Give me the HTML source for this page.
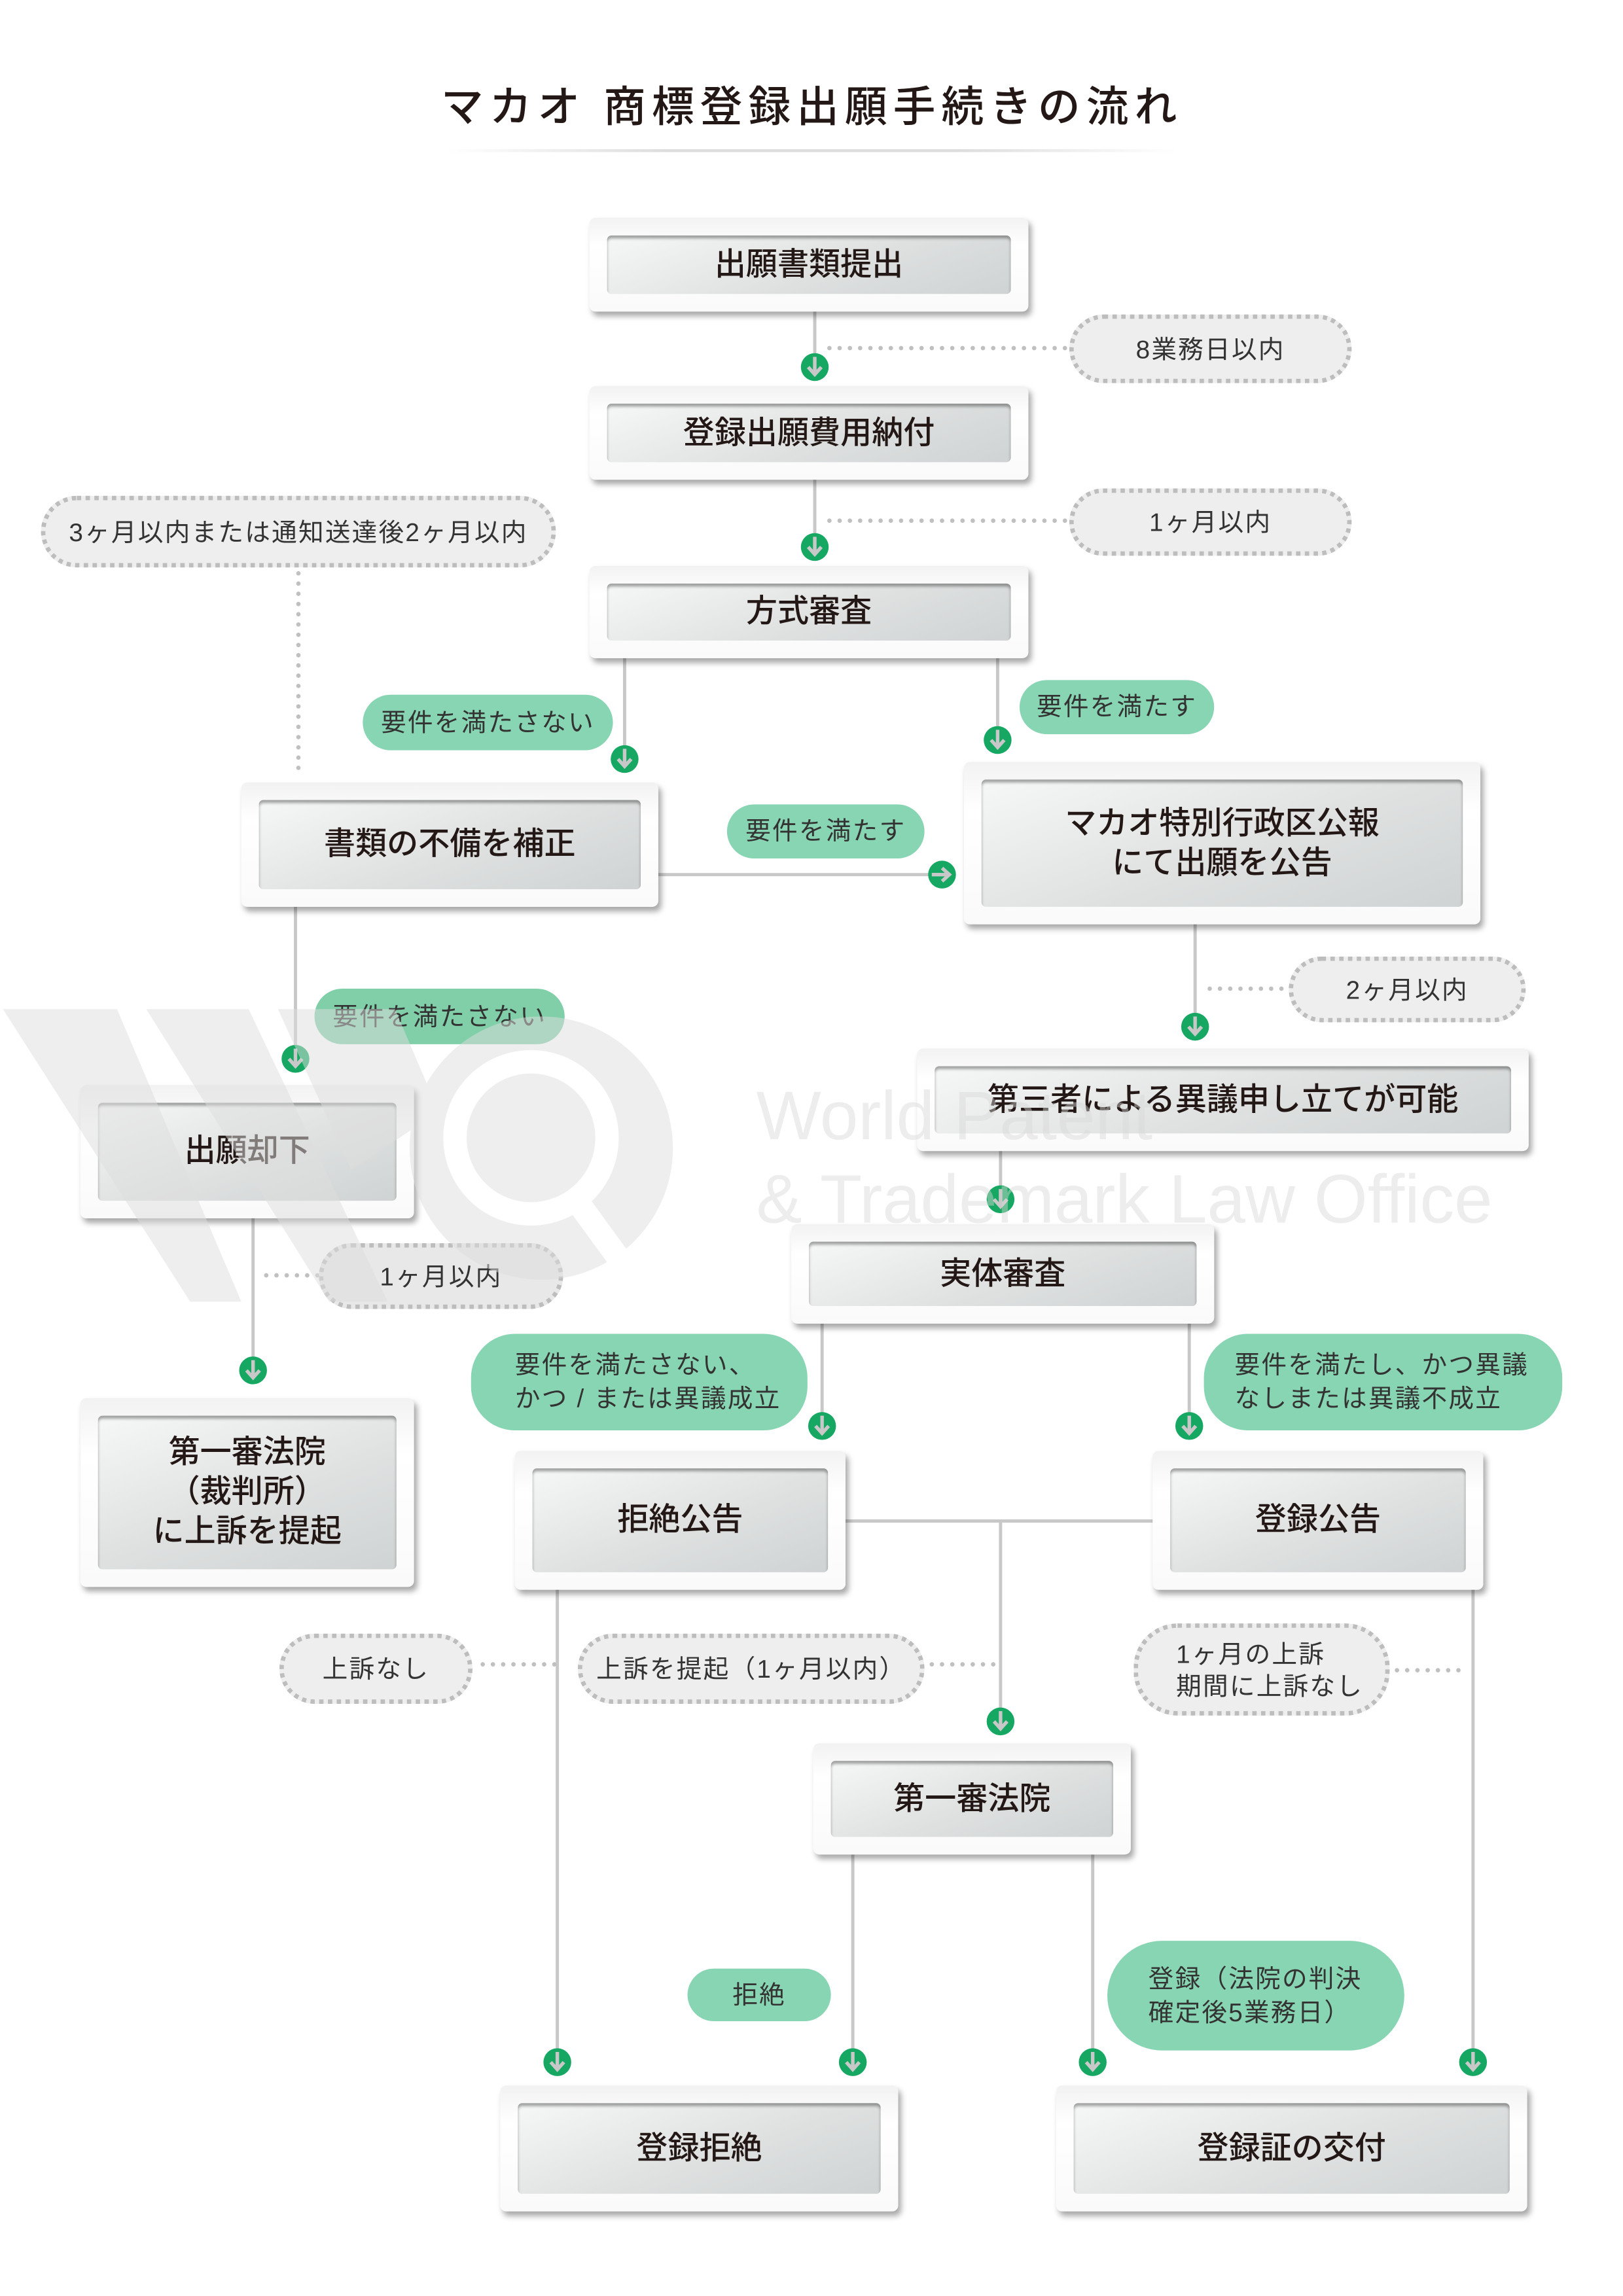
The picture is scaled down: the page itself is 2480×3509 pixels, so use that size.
<!DOCTYPE html>
<html><head><meta charset="utf-8">
<style>
html,body{margin:0;padding:0;background:#fff;}
body{width:2480px;height:3508px;overflow:hidden;position:relative;}
#w{position:absolute;left:0;top:0;width:1100px;height:1570px;transform:scale(2.2352);transform-origin:0 0;font-family:"Liberation Sans","Noto Sans CJK JP",sans-serif;color:#231815;}
.ab{position:absolute;}
.box{position:absolute;background:linear-gradient(180deg,#f2f2f2,#fff 30%,#fafafa);border-radius:4px;box-shadow:2px 3px 4px rgba(0,0,0,.35);}
.in{position:absolute;left:12px;right:12px;top:12px;bottom:12px;border-radius:3px;background:linear-gradient(160deg,#f6f7f7,#dfe1e1 55%,#cfd3d3);box-shadow:inset 0 2px 2px rgba(0,0,0,.35);display:flex;align-items:center;justify-content:center;text-align:center;font-size:21.5px;line-height:27px;font-weight:500;}
.gp{position:absolute;background:#88d5b3;border-radius:30px;display:flex;align-items:center;justify-content:center;font-size:17.3px;color:#333;line-height:23px;letter-spacing:1px;white-space:nowrap;}
.dp{position:absolute;background:#eeeeee;border:3px dotted #bdbdbd;border-radius:30px;display:flex;align-items:center;justify-content:center;font-size:17.3px;color:#333;line-height:22px;box-sizing:border-box;letter-spacing:1px;white-space:nowrap;}
.wm{position:absolute;color:rgba(215,215,215,.45);font-size:47px;white-space:nowrap;z-index:10;}
</style></head><body><div id="w">

<svg class="ab" style="left:0;top:0;z-index:9;opacity:.5" width="1100" height="1570">
 <g fill="#dedede">
  <polygon points="2,690 80,690 165,890 130,890"/>
  <polygon points="100,690 170,690 265,890 225,890"/>
  <polygon points="190,690 270,690 300,760 240,800"/>
  <circle cx="370" cy="785" r="90"/>
 </g>
 <circle cx="363" cy="778" r="52" fill="none" stroke="#fff" stroke-width="16"/>
 <line x1="395" y1="822" x2="430" y2="870" stroke="#fff" stroke-width="16"/>
</svg>
<div class="wm" style="left:517px;top:735px">World Patent</div>
<div class="wm" style="left:517px;top:792px">&amp; Trademark Law Office</div>

<div class="ab" style="left:280px;top:50px;width:550px;text-align:center;font-size:29px;letter-spacing:4px;font-weight:500">マカオ 商標登録出願手続きの流れ</div>
<div class="ab" style="left:305px;top:102px;width:500px;height:2px;background:linear-gradient(90deg,#fff,#ddd 30%,#ddd 70%,#fff)"></div>

<svg class="ab" style="left:0;top:0" width="1100" height="1570">
 <g stroke="#c8c8c8" stroke-width="2.2" fill="none">
  <path d="M557 213V251M557 328V374M427 450V519M682 450V506M450 598H644M202 620V724M817 632V702M684 787V820M173 833V937M562 905V975M813 905V975M578 1040H788M684 1040V1177M381 1087V1410M1007 1087V1410M583 1268V1410M747 1268V1410"/>
 </g>
 <g stroke="#c0c0c0" stroke-width="3" stroke-linecap="round" stroke-dasharray="0 7" fill="none">
  <path d="M567 238H730M567 356H730M204 392V527M827 676H880M182 872H218M330 1138H380M637 1138H680M955 1142H1000"/>
 </g>
</svg>

<svg class="ab" style="left:0;top:0;z-index:5" width="1100" height="1570">
 <defs><g id="a"><circle r="9.5" fill="#16a862"/><path d="M0,-7V4M-4.5,0L0,5L4.5,0" stroke="#c8c8c8" stroke-width="2.4" fill="none"/></g></defs>
 <use href="#a" x="557" y="251"/><use href="#a" x="557" y="374"/><use href="#a" x="427" y="519"/><use href="#a" x="682" y="506"/>
 <g transform="translate(644,598) rotate(-90)"><use href="#a"/></g>
 <use href="#a" x="202" y="724"/><use href="#a" x="817" y="702"/><use href="#a" x="684" y="820"/><use href="#a" x="173" y="937"/>
 <use href="#a" x="562" y="975"/><use href="#a" x="813" y="975"/><use href="#a" x="684" y="1177"/>
 <use href="#a" x="381" y="1410"/><use href="#a" x="583" y="1410"/><use href="#a" x="747" y="1410"/><use href="#a" x="1007" y="1410"/>
</svg>

<div class="box" style="left:403px;top:149px;width:300px;height:64px"><div class="in">出願書類提出</div></div>
<div class="box" style="left:403px;top:264px;width:300px;height:64px"><div class="in">登録出願費用納付</div></div>
<div class="box" style="left:403px;top:387px;width:300px;height:63px"><div class="in">方式審査</div></div>
<div class="box" style="left:165px;top:535px;width:285px;height:85px"><div class="in">書類の不備を補正</div></div>
<div class="box" style="left:659px;top:521px;width:353px;height:111px"><div class="in">マカオ特別行政区公報<br>にて出願を公告</div></div>
<div class="box" style="left:627px;top:717px;width:418px;height:70px"><div class="in">第三者による異議申し立てが可能</div></div>
<div class="box" style="left:541px;top:837px;width:289px;height:68px"><div class="in">実体審査</div></div>
<div class="box" style="left:55px;top:742px;width:228px;height:91px"><div class="in">出願却下</div></div>
<div class="box" style="left:55px;top:956px;width:228px;height:129px"><div class="in">第一審法院<br>（裁判所）<br>に上訴を提起</div></div>
<div class="box" style="left:352px;top:992px;width:226px;height:95px"><div class="in">拒絶公告</div></div>
<div class="box" style="left:788px;top:992px;width:226px;height:95px"><div class="in">登録公告</div></div>
<div class="box" style="left:556px;top:1192px;width:217px;height:76px"><div class="in">第一審法院</div></div>
<div class="box" style="left:342px;top:1426px;width:272px;height:86px"><div class="in">登録拒絶</div></div>
<div class="box" style="left:722px;top:1426px;width:322px;height:86px"><div class="in">登録証の交付</div></div>

<div class="dp" style="left:731px;top:215px;width:193px;height:47px">8業務日以内</div>
<div class="dp" style="left:731px;top:334px;width:193px;height:46px">1ヶ月以内</div>
<div class="dp" style="left:28px;top:339px;width:352px;height:49px">3ヶ月以内または通知送達後2ヶ月以内</div>
<div class="dp" style="left:881px;top:654px;width:162px;height:45px">2ヶ月以内</div>
<div class="dp" style="left:218px;top:850px;width:167px;height:45px;background:#e8e8e8">1ヶ月以内</div>
<div class="dp" style="left:191px;top:1117px;width:132px;height:48px">上訴なし</div>
<div class="dp" style="left:395px;top:1117px;width:237px;height:48px">上訴を提起（1ヶ月以内）</div>
<div class="dp" style="left:775px;top:1110px;width:175px;height:63px;justify-content:flex-start;padding-left:26px">1ヶ月の上訴<br>期間に上訴なし</div>

<div class="gp" style="left:248px;top:475px;width:171px;height:38px">要件を満たさない</div>
<div class="gp" style="left:697px;top:465px;width:133px;height:37px">要件を満たす</div>
<div class="gp" style="left:497px;top:550px;width:135px;height:37px">要件を満たす</div>
<div class="gp" style="left:215px;top:676px;width:171px;height:38px;background:#80cfa9">要件を満たさない</div>
<div class="gp" style="left:322px;top:912px;width:230px;height:66px;justify-content:flex-start;padding-left:30px;box-sizing:border-box">要件を満たさない、<br>かつ / または異議成立</div>
<div class="gp" style="left:823px;top:912px;width:245px;height:66px;justify-content:flex-start;padding-left:21px;box-sizing:border-box">要件を満たし、かつ異議<br>なしまたは異議不成立</div>
<div class="gp" style="left:470px;top:1346px;width:98px;height:36px">拒絶</div>
<div class="gp" style="left:757px;top:1327px;width:203px;height:75px;justify-content:flex-start;padding-left:28px;box-sizing:border-box;border-radius:38px">登録（法院の判決<br>確定後5業務日）</div>

</div></body></html>
